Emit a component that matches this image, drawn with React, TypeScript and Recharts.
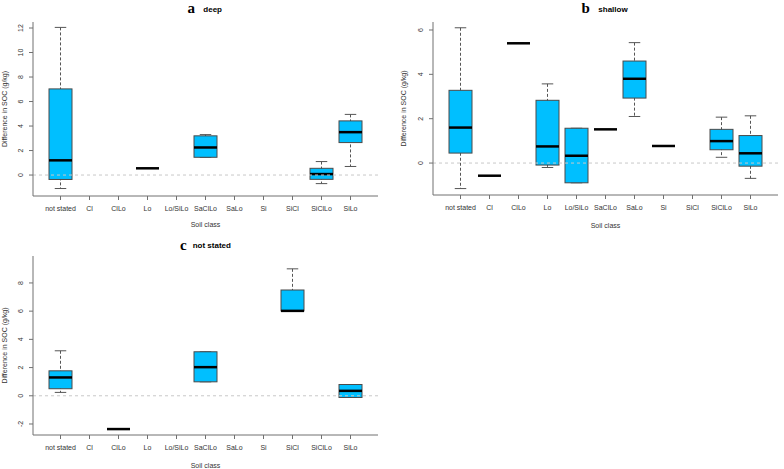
import React from 'react';
import { ComposedChart, Bar, XAxis, YAxis, ReferenceLine } from 'recharts';

const categories = ['not stated', 'Cl', 'ClLo', 'Lo', 'Lo/SiLo', 'SaClLo', 'SaLo', 'Si', 'SiCl', 'SiClLo', 'SiLo'];

// a: deep
const deepLow = [-1.1, null, null, 0.55, null, 1.45, null, null, null, -0.7, 0.7];
const deepQ1 = [-0.36, null, null, 0.55, null, 1.45, null, null, null, -0.35, 2.65];
const deepMed = [1.2, null, null, 0.55, null, 2.25, null, null, null, 0.08, 3.5];
const deepQ3 = [7.03, null, null, 0.55, null, 3.2, null, null, null, 0.55, 4.42];
const deepHigh = [12.05, null, null, 0.55, null, 3.3, null, null, null, 1.1, 4.95];

// b: shallow
const shallowLow = [-1.15, -0.57, 5.4, -0.2, -0.89, 1.52, 2.1, 0.77, null, 0.26, -0.69];
const shallowQ1 = [0.45, -0.57, 5.4, -0.09, -0.89, 1.52, 2.93, 0.77, null, 0.6, -0.14];
const shallowMed = [1.6, -0.57, 5.4, 0.75, 0.33, 1.52, 3.8, 0.77, null, 0.99, 0.44];
const shallowQ3 = [3.28, -0.57, 5.4, 2.83, 1.57, 1.52, 4.6, 0.77, null, 1.52, 1.24];
const shallowHigh = [6.1, -0.57, 5.4, 3.57, 1.57, 1.52, 5.43, 0.77, null, 2.07, 2.13];

// c: not stated
const nsLow = [0.24, null, -2.36, null, null, 0.99, null, null, 6.02, null, -0.12];
const nsQ1 = [0.5, null, -2.36, null, null, 0.99, null, null, 6.02, null, -0.12];
const nsMed = [1.3, null, -2.36, null, null, 2.03, null, null, 6.02, null, 0.35];
const nsQ3 = [1.77, null, -2.36, null, null, 3.12, null, null, 7.5, null, 0.8];
const nsHigh = [3.19, null, -2.36, null, null, 3.12, null, null, 9.0, null, 0.8];

const deepTicks = [0, 2, 4, 6, 8, 10, 12];
const shallowTicks = [0, 2, 4, 6];
const nsTicks = [-2, 0, 2, 4, 6, 8];

const FONT = '"Liberation Sans", Arial, sans-serif';
const AXIS = '#707070';
const BOX_W = 23;

function buildRows(low: any[], q1: any[], med: any[], q3: any[], high: any[]) {
  return categories.map((cat, i) => ({
    cat,
    whisker: low[i] == null ? null : [low[i], high[i]],
    box: q1[i] == null ? null : [q1[i], q3[i]],
    median: med[i] == null ? null : [med[i], med[i]],
  }));
}

const WhiskerShape = (props: any) => {
  const { x, y, width, height, payload } = props;
  if (!payload || payload.whisker == null) return null;
  const cx = x + width / 2;
  const top = Math.min(y, y + height);
  const bot = Math.max(y, y + height);
  const cap = width / 4;
  return (
    <g>
      <line x1={cx} x2={cx} y1={top} y2={bot} stroke="#555" strokeDasharray="3 2" />
      <line x1={cx - cap} x2={cx + cap} y1={top} y2={top} stroke="#555" />
      <line x1={cx - cap} x2={cx + cap} y1={bot} y2={bot} stroke="#555" />
    </g>
  );
};

const BoxShape = (props: any) => {
  const { x, y, width, height, payload } = props;
  if (!payload || payload.box == null) return null;
  const top = Math.min(y, y + height);
  const h = Math.abs(height);
  return <rect x={x} y={top} width={width} height={h} fill="#00BFFF" stroke="#4a4a4a" strokeWidth={1} />;
};

const MedianShape = (props: any) => {
  const { x, y, width, payload } = props;
  if (!payload || payload.median == null) return null;
  return <line x1={x} x2={x + width} y1={y} y2={y} stroke="#000" strokeWidth={2.5} />;
};

const YTick = (props: any) => {
  const { x, y, payload } = props;
  const bx = x - 5.5;
  return (
    <text x={bx} y={y} transform={`rotate(-90, ${bx}, ${y})`} textAnchor="middle" fontSize={7} fill="#333" fontFamily={FONT}>
      {payload.value}
    </text>
  );
};

function BoxPanel({ rows, domain, ticks, width, height, margin, xHeight, yLabelOffset, xLabelOffset }: any) {
  return (
    <ComposedChart width={width} height={height} data={rows} margin={margin} barSize={BOX_W} barGap={-BOX_W}>
      <XAxis
        dataKey="cat"
        interval={0}
        padding={{ left: 13, right: 13 }}
        height={xHeight}
        tickSize={4}
        tickMargin={6}
        stroke={AXIS}
        tick={{ fontSize: 7, fill: '#333', fontFamily: FONT }}
        label={{ value: 'Soil class', position: 'insideBottom', offset: xLabelOffset, fontSize: 7, fill: '#333', fontFamily: FONT }}
      />
      <XAxis xAxisId="top" orientation="top" dataKey="cat" height={0} tick={false} tickLine={false} stroke={AXIS} />
      <YAxis
        type="number"
        domain={domain}
        ticks={ticks}
        allowDataOverflow
        width={33}
        tickSize={4}
        tickMargin={0}
        stroke={AXIS}
        tick={<YTick />}
        label={{
          value: 'Difference in SOC (g/kg)',
          angle: -90,
          position: 'insideLeft',
          offset: yLabelOffset,
          fontSize: 7,
          fill: '#333',
          fontFamily: FONT,
          style: { textAnchor: 'middle' },
        }}
      />
      <YAxis yAxisId="right" orientation="right" width={0} domain={[0, 1]} tick={false} tickLine={false} stroke={AXIS} />
      <ReferenceLine y={0} stroke="#c8c8c8" strokeDasharray="3 3" />
      <Bar dataKey="whisker" shape={<WhiskerShape />} isAnimationActive={false} />
      <Bar dataKey="box" shape={<BoxShape />} isAnimationActive={false} />
      <Bar dataKey="median" shape={<MedianShape />} isAnimationActive={false} />
    </ComposedChart>
  );
}

export default function App() {
  const deepRows = buildRows(deepLow, deepQ1, deepMed, deepQ3, deepHigh);
  const shallowRows = buildRows(shallowLow, shallowQ1, shallowMed, shallowQ3, shallowHigh);
  const nsRows = buildRows(nsLow, nsQ1, nsMed, nsQ3, nsHigh);

  return (
    <div style={{ position: 'absolute', left: 0, top: 0, width: 784, height: 469, background: '#fff' }}>
      <div style={{ position: 'absolute', left: 0, top: 0 }}>
        <BoxPanel
          rows={deepRows}
          domain={[-1.71, 12.49]}
          ticks={deepTicks}
          width={390}
          height={232}
          margin={{ top: 22, right: 12, left: 0, bottom: 0 }}
          xHeight={36}
          yLabelOffset={5}
          xLabelOffset={5}
        />
      </div>
      <div style={{ position: 'absolute', left: 390, top: 0 }}>
        <BoxPanel
          rows={shallowRows}
          domain={[-1.44, 6.36]}
          ticks={shallowTicks}
          width={394}
          height={232}
          margin={{ top: 22, right: 6, left: 10, bottom: 0 }}
          xHeight={37}
          yLabelOffset={3.3}
          xLabelOffset={4.5}
        />
      </div>
      <div style={{ position: 'absolute', left: 0, top: 235 }}>
        <BoxPanel
          rows={nsRows}
          domain={[-2.78, 9.91]}
          ticks={nsTicks}
          width={390}
          height={234}
          margin={{ top: 21, right: 12, left: 0, bottom: 0 }}
          xHeight={34}
          yLabelOffset={5}
          xLabelOffset={1.5}
        />
      </div>
      <svg width={784} height={469} style={{ position: 'absolute', left: 0, top: 0, pointerEvents: 'none' }}>
        <text x={187.5} y={12.5} fontFamily='"Liberation Serif", serif' fontWeight="bold" fontSize={15} fill="#000">a</text>
        <text x={203.3} y={11.5} fontFamily={FONT} fontWeight="bold" fontSize={8} fill="#000">deep</text>
        <text x={581.5} y={13.3} fontFamily='"Liberation Serif", serif' fontWeight="bold" fontSize={15} fill="#000">b</text>
        <text x={598.3} y={11.7} fontFamily={FONT} fontWeight="bold" fontSize={8} fill="#000">shallow</text>
        <text x={180} y={250} fontFamily='"Liberation Serif", serif' fontWeight="bold" fontSize={15} fill="#000">c</text>
        <text x={192.7} y={248.4} fontFamily={FONT} fontWeight="bold" fontSize={8} fill="#000">not stated</text>
      </svg>
    </div>
  );
}
